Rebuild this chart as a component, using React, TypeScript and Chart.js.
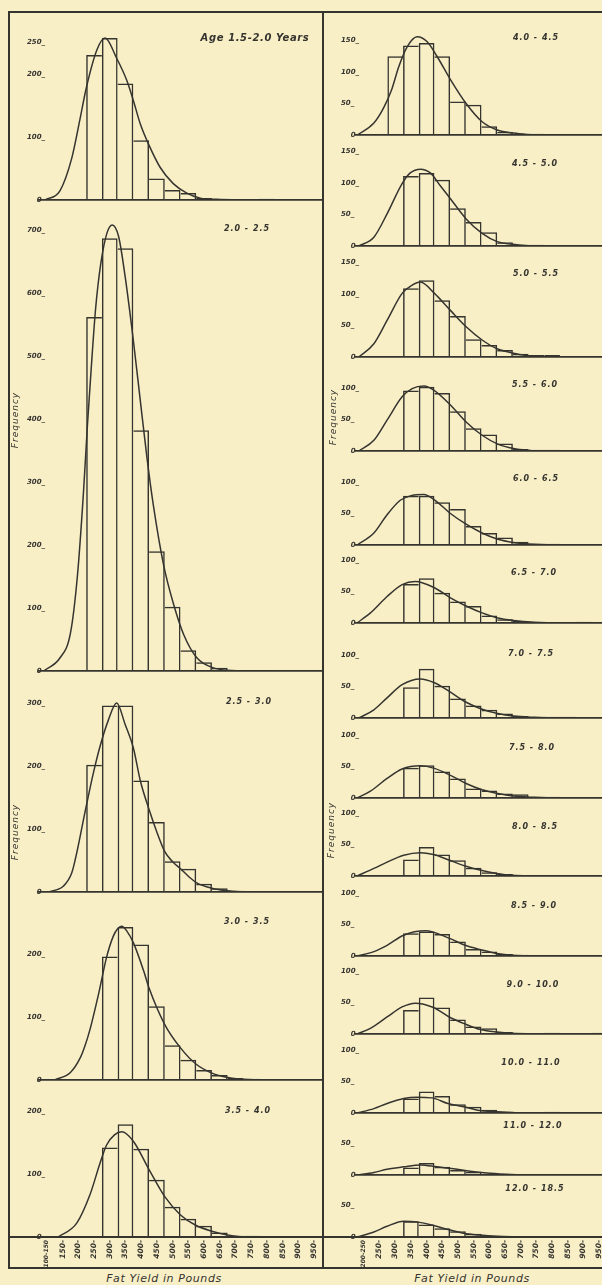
import { useEffect, useRef } from "react";
import { Chart, registerables } from "chart.js";

Chart.register(...registerables);

// ---------- tick labels (bins of fat yield, pounds) ----------
const leftBins = ["100-150", "150-", "200-", "250-", "300-", "350-", "400-", "450-", "500-", "550-", "600-", "650-", "700-", "750-", "800-", "850-", "900-", "950-"];
const rightBins = ["200-250", "250-", "300-", "350-", "400-", "450-", "500-", "550-", "600-", "650-", "700-", "750-", "800-", "850-", "900-", "950-"];

// ---------- left column: frequencies per bin ----------
const bars15to20 = [0, 0, 0, 230, 257, 185, 95, 34, 16, 11, 3, 1, 0, 0, 2, 0, 0, 0];
const bars20to25 = [0, 0, 0, 562, 687, 671, 382, 190, 102, 33, 14, 5, 1, 1, 1, 0, 0, 0];
const bars25to30 = [0, 0, 0, 202, 296, 296, 177, 111, 49, 37, 13, 6, 2, 1, 0, 0, 0, 0];
const bars30to35 = [0, 0, 0, 0, 196, 243, 215, 117, 55, 32, 16, 8, 3, 2, 0, 0, 0, 0];
const bars35to40 = [0, 0, 0, 0, 142, 179, 140, 91, 48, 29, 18, 7, 2, 2, 0, 0, 0, 0];

// ---------- right column: frequencies per bin ----------
const bars40to45 = [0, 0, 125, 142, 146, 125, 53, 48, 14, 5, 1, 2, 1, 0, 0, 0];
const bars45to50 = [0, 0, 0, 111, 116, 105, 60, 38, 22, 6, 2, 2, 0, 0, 0, 0];
const bars50to55 = [0, 0, 0, 109, 122, 90, 65, 28, 19, 11, 5, 3, 3, 0, 0, 0];
const bars55to60 = [0, 0, 0, 96, 102, 92, 63, 36, 26, 12, 3, 2, 2, 0, 0, 0];
const bars60to65 = [0, 0, 0, 78, 78, 68, 57, 30, 19, 12, 5, 2, 2, 0, 0, 0];
const bars65to70 = [0, 0, 0, 62, 71, 48, 34, 27, 12, 6, 3, 1, 1, 0, 2, 0];
const bars70to75 = [0, 0, 0, 49, 78, 51, 31, 20, 13, 7, 3, 1, 2, 2, 0, 0];
const bars75to80 = [0, 0, 0, 48, 52, 42, 31, 15, 12, 7, 6, 2, 2, 1, 0, 0];
const bars80to85 = [0, 0, 0, 26, 46, 34, 25, 13, 6, 3, 0, 0, 0, 0, 0, 0];
const bars85to90 = [0, 0, 0, 36, 39, 35, 23, 11, 7, 3, 2, 0, 0, 0, 0, 0];
const bars90to100 = [0, 0, 0, 38, 58, 42, 23, 12, 9, 3, 1, 1, 2, 0, 0, 2];
const bars100to110 = [0, 0, 0, 23, 34, 27, 14, 10, 5, 2, 0, 0, 2, 0, 0, 0];
const bars110to120 = [0, 0, 0, 12, 19, 13, 8, 5, 2, 0, 0, 0, 0, 0, 0, 0];
const bars120to185 = [0, 0, 0, 25, 20, 14, 9, 5, 2, 0, 0, 0, 0, 0, 0, 0];

// ---------- fitted curves: [pounds, frequency] ----------
type Pt = [number, number];
const curve15to20: Pt[] = [[119, 0], [167, 15], [204, 66], [231, 130], [250, 177], [284, 238], [310, 257], [347, 225], [379, 190], [400, 158], [422, 121], [448, 89], [485, 52], [527, 26], [570, 11], [613, 3], [666, 1], [741, 0]];
const curve20to25: Pt[] = [[114, 0], [167, 21], [200, 60], [222, 150], [241, 280], [254, 390], [266, 480], [280, 575], [296, 645], [316, 695], [333, 708], [353, 690], [374, 626], [400, 525], [422, 430], [443, 340], [464, 262], [496, 169], [528, 106], [560, 58], [602, 21], [655, 5], [740, 0]];
const curve25to30: Pt[] = [[130, 0], [177, 9], [204, 30], [220, 62], [246, 126], [273, 189], [294, 231], [320, 272], [347, 300], [374, 266], [400, 229], [422, 177], [450, 131], [475, 95], [500, 64], [525, 48], [550, 37], [575, 25], [600, 15], [650, 6], [700, 2], [760, 0]];
const curve30to35: Pt[] = [[150, 0], [200, 12], [231, 35], [246, 54], [262, 80], [291, 140], [315, 195], [336, 228], [350, 240], [363, 244], [380, 236], [400, 218], [433, 173], [450, 146], [500, 88], [550, 51], [600, 25], [650, 11], [700, 4], [750, 1], [800, 0]];
const curve35to40: Pt[] = [[161, 0], [220, 22], [262, 67], [294, 117], [315, 146], [340, 162], [363, 167], [400, 152], [450, 107], [500, 64], [550, 35], [597, 19], [650, 9], [700, 3], [750, 0]];
const curve40to45: Pt[] = [[204, 0], [257, 19], [288, 43], [315, 74], [336, 108], [363, 140], [395, 156], [427, 148], [458, 125], [501, 88], [551, 50], [602, 21], [650, 8], [702, 3], [768, 0]];
const curve45to50: Pt[] = [[209, 0], [257, 14], [299, 51], [347, 99], [373, 116], [405, 122], [437, 116], [468, 96], [501, 75], [551, 43], [602, 20], [650, 7], [713, 2], [770, 0]];
const curve50to55: Pt[] = [[209, 0], [257, 21], [299, 58], [347, 101], [379, 114], [405, 119], [450, 101], [501, 74], [551, 48], [602, 27], [650, 13], [702, 6], [770, 0]];
const curve55to60: Pt[] = [[209, 0], [257, 17], [299, 49], [347, 86], [379, 99], [416, 103], [450, 96], [501, 73], [551, 46], [602, 25], [652, 11], [702, 4], [770, 0]];
const curve60to65: Pt[] = [[204, 0], [257, 19], [299, 48], [341, 71], [373, 78], [416, 80], [452, 71], [501, 50], [551, 33], [602, 19], [652, 9], [702, 4], [770, 1], [830, 0]];
const curve65to70: Pt[] = [[203, 0], [246, 16], [299, 42], [347, 61], [389, 66], [450, 56], [501, 40], [551, 27], [602, 16], [652, 8], [702, 4], [770, 1], [830, 0]];
const curve70to75: Pt[] = [[209, 0], [257, 13], [299, 32], [347, 53], [405, 62], [450, 56], [501, 41], [551, 25], [602, 14], [652, 7], [702, 3], [770, 1], [830, 0]];
const curve75to80: Pt[] = [[203, 0], [246, 11], [299, 31], [347, 46], [405, 51], [450, 47], [501, 36], [551, 23], [602, 13], [652, 7], [702, 3], [770, 1], [830, 0]];
const curve80to85: Pt[] = [[203, 0], [257, 12], [299, 22], [352, 33], [405, 37], [447, 34], [498, 25], [548, 16], [598, 9], [649, 4], [700, 1], [770, 0]];
const curve85to90: Pt[] = [[203, 0], [257, 7], [299, 17], [352, 33], [421, 40], [498, 28], [548, 17], [598, 10], [649, 4], [700, 1], [770, 0]];
const curve90to100: Pt[] = [[203, 0], [246, 9], [299, 27], [347, 43], [389, 49], [447, 42], [497, 27], [547, 16], [597, 7], [650, 3], [700, 1], [770, 0]];
const curve100to110: Pt[] = [[203, 0], [257, 7], [299, 15], [352, 23], [394, 25], [442, 24], [493, 15], [543, 10], [594, 4], [650, 2], [720, 0]];
const curve110to120: Pt[] = [[203, 0], [257, 4], [299, 9], [352, 13], [405, 16], [458, 13], [511, 10], [564, 6], [617, 3], [680, 1], [730, 0]];
const curve120to185: Pt[] = [[203, 0], [257, 8], [299, 17], [352, 25], [394, 24], [442, 19], [493, 12], [543, 6], [594, 3], [650, 1], [720, 0]];

// ---------- y tick values ----------
const ticks15to20 = [0, 100, 200, 250];
const ticks20to25 = [0, 100, 200, 300, 400, 500, 600, 700];
const ticks25to30 = [0, 100, 200, 300];
const ticksLeftSmall = [0, 100, 200];
const ticksRight150 = [0, 50, 100, 150];
const ticksRight100 = [0, 50, 100];
const ticksRight50 = [0, 50];

// ---------- layout / styling ----------
const PX_PER_UNIT = 0.63;
const INK = "#36342f";
const BG = "#f8efc7";
const FONT = '"DejaVu Sans", "Liberation Sans", sans-serif';
const AXIS_H = 31;

const COLS = {
  L: { left: 9, width: 313, yw: 30, bins: leftBins, start: 100, labelPad: -12 },
  R: { left: 324, width: 283, yw: 32, bins: rightBins, start: 200, labelPad: -15 },
};

interface PanelDef {
  title: string;
  bars: number[];
  curve: Pt[];
  yTicks: number[];
  side: "L" | "R";
  top: number;
  base: number;
  axis: boolean;
  tx: number;
  ty: number;
}

const panels: PanelDef[] = [
  { title: "Age 1.5-2.0 Years", bars: bars15to20, curve: curve15to20, yTicks: ticks15to20, side: "L", top: 12, base: 200, axis: false, tx: 255, ty: 38 },
  { title: "2.0 - 2.5", bars: bars20to25, curve: curve20to25, yTicks: ticks20to25, side: "L", top: 202, base: 671, axis: false, tx: 247, ty: 229 },
  { title: "2.5 - 3.0", bars: bars25to30, curve: curve25to30, yTicks: ticks25to30, side: "L", top: 673, base: 892, axis: false, tx: 249, ty: 702 },
  { title: "3.0 - 3.5", bars: bars30to35, curve: curve30to35, yTicks: ticksLeftSmall, side: "L", top: 894, base: 1080, axis: false, tx: 247, ty: 922 },
  { title: "3.5 - 4.0", bars: bars35to40, curve: curve35to40, yTicks: ticksLeftSmall, side: "L", top: 1082, base: 1237, axis: true, tx: 248, ty: 1111 },
  { title: "4.0 - 4.5", bars: bars40to45, curve: curve40to45, yTicks: ticksRight150, side: "R", top: 12, base: 135, axis: false, tx: 536, ty: 38 },
  { title: "4.5 - 5.0", bars: bars45to50, curve: curve45to50, yTicks: ticksRight150, side: "R", top: 137, base: 246, axis: false, tx: 535, ty: 164 },
  { title: "5.0 - 5.5", bars: bars50to55, curve: curve50to55, yTicks: ticksRight150, side: "R", top: 248, base: 357, axis: false, tx: 536, ty: 274 },
  { title: "5.5 - 6.0", bars: bars55to60, curve: curve55to60, yTicks: ticksRight100, side: "R", top: 359, base: 451, axis: false, tx: 535, ty: 385 },
  { title: "6.0 - 6.5", bars: bars60to65, curve: curve60to65, yTicks: ticksRight100, side: "R", top: 453, base: 545, axis: false, tx: 536, ty: 479 },
  { title: "6.5 - 7.0", bars: bars65to70, curve: curve65to70, yTicks: ticksRight100, side: "R", top: 547, base: 623, axis: false, tx: 534, ty: 573 },
  { title: "7.0 - 7.5", bars: bars70to75, curve: curve70to75, yTicks: ticksRight100, side: "R", top: 625, base: 718, axis: false, tx: 531, ty: 654 },
  { title: "7.5 - 8.0", bars: bars75to80, curve: curve75to80, yTicks: ticksRight100, side: "R", top: 720, base: 798, axis: false, tx: 532, ty: 748 },
  { title: "8.0 - 8.5", bars: bars80to85, curve: curve80to85, yTicks: ticksRight100, side: "R", top: 800, base: 876, axis: false, tx: 535, ty: 827 },
  { title: "8.5 - 9.0", bars: bars85to90, curve: curve85to90, yTicks: ticksRight100, side: "R", top: 878, base: 956, axis: false, tx: 534, ty: 906 },
  { title: "9.0 - 10.0", bars: bars90to100, curve: curve90to100, yTicks: ticksRight100, side: "R", top: 958, base: 1034, axis: false, tx: 533, ty: 985 },
  { title: "10.0 - 11.0", bars: bars100to110, curve: curve100to110, yTicks: ticksRight100, side: "R", top: 1036, base: 1113, axis: false, tx: 531, ty: 1063 },
  { title: "11.0 - 12.0", bars: bars110to120, curve: curve110to120, yTicks: ticksRight50, side: "R", top: 1115, base: 1175, axis: false, tx: 533, ty: 1126 },
  { title: "12.0 - 18.5", bars: bars120to185, curve: curve120to185, yTicks: ticksRight50, side: "R", top: 1177, base: 1237, axis: true, tx: 535, ty: 1189 },
];

const tickFont = { family: FONT, size: 7, style: "italic" as const, weight: "bold" as const };
const LINE_W = 1.5;

function buildConfig(p: PanelDef): any {
  const col = COLS[p.side];
  const plotH = p.base - p.top;
  const yMax = plotH / PX_PER_UNIT;
  const bars = p.bars;
  return {
    type: "bar",
    data: {
      labels: col.bins,
      datasets: [
        {
          type: "bar",
          data: bars.map((v) => (v > 0 ? v : null)),
          xAxisID: "x",
          yAxisID: "y",
          grouped: false,
          backgroundColor: "rgba(0,0,0,0)",
          borderColor: INK,
          borderSkipped: false,
          inflateAmount: 0,
          borderWidth: (ctx: any) => {
            const i = ctx.dataIndex;
            const h = bars[i] || 0;
            const prev = bars[i - 1] || 0;
            const next = bars[i + 1] || 0;
            return { top: LINE_W, bottom: 0, left: h >= prev ? LINE_W : 0, right: h > next ? LINE_W : 0 };
          },
          barPercentage: 1,
          categoryPercentage: 1,
          order: 2,
        },
        {
          type: "line",
          data: p.curve.map(([x, y]) => ({ x, y })),
          xAxisID: "xc",
          yAxisID: "y",
          borderColor: INK,
          borderWidth: 1.5,
          pointRadius: 0,
          fill: false,
          tension: 0.4,
          cubicInterpolationMode: "monotone",
          order: 1,
        },
      ],
    },
    options: {
      responsive: false,
      animation: false,
      events: [],
      layout: { padding: 0 },
      plugins: { legend: { display: false }, tooltip: { enabled: false }, title: { display: false } },
      scales: {
        x: {
          type: "category",
          position: "bottom",
          offset: true,
          grid: { display: false, drawTicks: false, offset: true },
          border: { display: true, color: INK, width: 1.8 },
          ticks: {
            display: p.axis,
            autoSkip: false,
            minRotation: 90,
            maxRotation: 90,
            padding: 3,
            color: INK,
            font: (ctx: any) => ({ ...tickFont, size: ctx.index === 0 ? 6 : 7.5 }),
          },
          afterFit: (s: any) => {
            s.height = p.axis ? AXIS_H : 2;
            s.paddingLeft = 0;
            s.paddingRight = 0;
          },
        },
        xc: {
          type: "linear",
          display: false,
          offset: false,
          grid: { offset: false },
          min: col.start,
          max: 1000,
        },
        y: {
          type: "linear",
          position: "left",
          min: 0,
          max: yMax,
          grid: { display: false, drawTicks: false },
          border: { display: false },
          ticks: {
            mirror: true,
            padding: col.labelPad,
            color: INK,
            font: tickFont,
            callback: (v: any) => (Number(v) === 0 ? "\u2007\u20070" : `${v}_`),
          },
          afterBuildTicks: (s: any) => {
            s.ticks = p.yTicks.map((v) => ({ value: v }));
          },
          afterFit: (s: any) => {
            s.width = col.yw;
            s.paddingTop = 0;
            s.paddingBottom = 0;
          },
        },
      },
    },
  };
}

function PanelChart({ p }: { p: PanelDef }) {
  const ref = useRef<HTMLCanvasElement | null>(null);
  const col = COLS[p.side];
  const h = p.base - p.top + (p.axis ? AXIS_H : 2);
  useEffect(() => {
    if (!ref.current) return;
    const chart = new Chart(ref.current, buildConfig(p));
    return () => chart.destroy();
  }, []);
  return (
    <canvas
      ref={ref}
      width={col.width}
      height={h}
      style={{ position: "absolute", left: col.left, top: p.top, width: col.width, height: h }}
    />
  );
}

const titleStyle = (x: number, y: number, size: number): React.CSSProperties => ({
  position: "absolute",
  left: x,
  top: y,
  transform: "translate(-50%, -50%)",
  fontFamily: FONT,
  fontStyle: "italic",
  fontWeight: "bold",
  fontSize: size,
  letterSpacing: size > 9 ? "0.6px" : "1px",
  color: INK,
  whiteSpace: "nowrap",
  lineHeight: 1,
});

const freqLabels = [
  { x: 15, y: 420 },
  { x: 15, y: 832 },
  { x: 333, y: 417 },
  { x: 331, y: 830 },
];

const axisTitles = [
  { x: 164, y: 1278 },
  { x: 472, y: 1278 },
];

function Line({ l, t, w, h }: { l: number; t: number; w: number; h: number }) {
  return <div style={{ position: "absolute", left: l, top: t, width: w, height: h, background: INK }} />;
}

export default function App() {
  return (
    <div
      style={{
        position: "absolute",
        left: 0,
        top: 0,
        width: 602,
        height: 1285,
        overflow: "hidden",
        background: BG,
      }}
    >
      {/* frame */}
      <Line l={8} t={11} w={594} h={2} />
      <Line l={8} t={11} w={1.5} h={1258} />
      <Line l={322} t={11} w={2} h={1258} />
      <Line l={8} t={1267} w={594} h={2} />
      <Line l={8} t={1236} w={594} h={1.7} />

      {panels.map((p, i) => (
        <PanelChart key={i} p={p} />
      ))}

      {panels.map((p, i) => (
        <div key={"t" + i} style={titleStyle(p.tx, p.ty, i === 0 ? 10 : 8)}>
          {p.title}
        </div>
      ))}

      {freqLabels.map((f, i) => (
        <div
          key={"f" + i}
          style={{
            ...titleStyle(f.x, f.y, 9),
            fontWeight: "normal",
            letterSpacing: "1px",
            transform: "translate(-50%, -50%) rotate(-90deg)",
          }}
        >
          Frequency
        </div>
      ))}

      {axisTitles.map((a, i) => (
        <div key={"a" + i} style={{ ...titleStyle(a.x, a.y, 11), fontWeight: "normal" }}>
          Fat Yield in Pounds
        </div>
      ))}
    </div>
  );
}
